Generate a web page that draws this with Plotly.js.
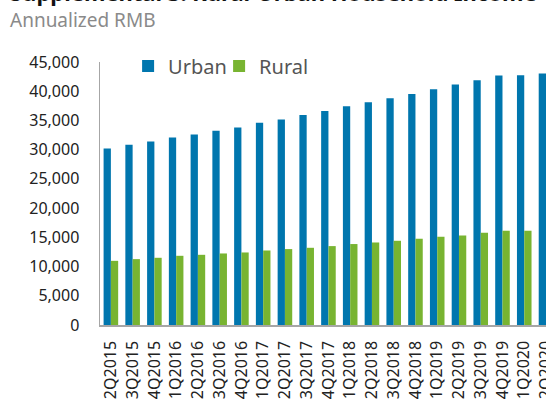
<!DOCTYPE html>
<html>
<head>
<meta charset="utf-8">
<script src="https://cdn.plot.ly/plotly-3.0.1.min.js"></script>
<style>
html,body{margin:0;padding:0;background:#fff;overflow:hidden;}
#chart{width:546px;height:399px;}
</style>
</head>
<body>
<div id="chart"></div>
<script>
var quarters = ["2Q2015","3Q2015","4Q2015","1Q2016","2Q2016","3Q2016","4Q2016","1Q2017","2Q2017","3Q2017","4Q2017","1Q2018","2Q2018","3Q2018","4Q2018","1Q2019","2Q2019","3Q2019","4Q2019","1Q2020","2Q2020"];
var urban = [30200,30840,31400,32090,32600,33240,33800,34610,35180,35920,36600,37410,38100,38780,39520,40330,41130,41870,42680,42730,43020];
var rural = [10980,11270,11500,11840,12010,12240,12410,12750,12990,13210,13500,13850,14120,14410,14760,15100,15320,15790,16130,16130,16300];
var yTicks = [0,5000,10000,15000,20000,25000,30000,35000,40000,45000];
var yTickText = ["0","5,000","10,000","15,000","20,000","25,000","30,000","35,000","40,000","45,000"];

var FONT = "Noto Sans, Open Sans, sans-serif";

var data = [
  {type:"bar", name:"Urban", x:quarters, y:urban, marker:{color:"#0076ae", line:{width:0}}},
  {type:"bar", name:"Rural", x:quarters, y:rural, marker:{color:"#78b431", line:{width:0}}}
];

var layout = {
  width:546, height:399,
  margin:{l:100, r:0, t:62, b:74, pad:0},
  paper_bgcolor:"#fff", plot_bgcolor:"#fff",
  barmode:"group", bargap:0.33, bargroupgap:0,
  font:{family:FONT, color:"#222"},
  showlegend:true,
  legend:{orientation:"h", x:0.063, xanchor:"left", y:0.985, yanchor:"middle",
          font:{family:FONT, size:20, color:"#555"}, bgcolor:"rgba(0,0,0,0)",
          entrywidth:46, entrywidthmode:"pixels"},
  xaxis:{type:"category", range:[-0.5,20.0], showgrid:false, zeroline:false,
         showline:true, linecolor:"#a6a6a6", linewidth:1.5,
         tickangle:-90, tickfont:{family:FONT, size:16, color:"#222"},
         ticks:"", ticklabelstandoff:8, fixedrange:true},
  yaxis:{range:[0,45000], showgrid:false, zeroline:false,
         showline:true, linecolor:"#a6a6a6", linewidth:1.5,
         tickvals:yTicks, ticktext:yTickText,
         tickfont:{family:FONT, size:16, color:"#222"},
         ticks:"", ticklabelstandoff:16, fixedrange:true},
  annotations:[
    {text:"<b>Supplemental 3: Rural-Urban Household Income</b>", xref:"paper", yref:"paper",
     x:-0.207, y:1.2015, xanchor:"left", yanchor:"bottom", showarrow:false,
     font:{family:FONT, size:22, color:"#111"}},
    {text:"Annualized RMB", xref:"paper", yref:"paper",
     x:-0.207, y:1.104, xanchor:"left", yanchor:"bottom", showarrow:false,
     font:{family:FONT, size:19, color:"#8a8a8a"}}
  ]
};

Plotly.newPlot("chart", data, layout, {displayModeBar:false, staticPlot:true});
</script>
</body>
</html>
